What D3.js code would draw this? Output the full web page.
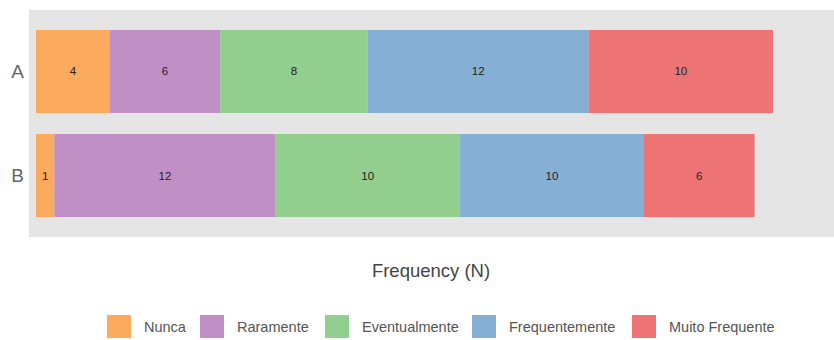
<!DOCTYPE html>
<html><head><meta charset="utf-8">
<script src="https://cdn.jsdelivr.net/npm/d3@7"></script>
<style>body{margin:0;background:#fff;font-family:"Liberation Sans",Arial,sans-serif}</style>
</head><body>
<svg id="c" width="834" height="340"></svg>
<script>
const categories = ["A", "B"];
const seriesNames = ["Nunca", "Raramente", "Eventualmente", "Frequentemente", "Muito Frequente"];
const nunca = [4, 1];
const raramente = [6, 12];
const eventualmente = [8, 10];
const frequentemente = [12, 10];
const muitoFrequente = [10, 6];
const colors = ["#FBAA5E", "#BF8FC5", "#92CF8F", "#85AFD5", "#ED7374"];
const xLabel = "Frequency (N)";

const seriesVals = [nunca, raramente, eventualmente, frequentemente, muitoFrequente];
const rows = categories.map((c, i) => {
  const o = {cat: c};
  seriesNames.forEach((s, j) => o[s] = seriesVals[j][i]);
  return o;
});
const stack = d3.stack().keys(seriesNames)(rows);

const svg = d3.select("#c");
const panel = {x0: 29, x1: 834, y0: 10, y1: 237};
svg.append("rect").attr("x", panel.x0).attr("y", panel.y0)
  .attr("width", panel.x1 - panel.x0).attr("height", panel.y1 - panel.y0).attr("fill", "#E5E5E5");

const x = d3.scaleLinear().domain([0, 40]).range([36, 773]);
const y = d3.scaleBand().domain(categories).range([panel.y0, panel.y1]).paddingInner(0.202).paddingOuter(0.192);

const g = svg.append("g");
stack.forEach((layer, j) => {
  const lg = g.append("g");
  lg.selectAll("rect").data(layer).join("rect")
    .attr("x", d => x(d[0])).attr("y", d => y(d.data.cat))
    .attr("width", d => x(d[1]) - x(d[0])).attr("height", y.bandwidth())
    .attr("fill", colors[j]);
  lg.selectAll("text").data(layer).join("text")
    .attr("x", d => (x(d[0]) + x(d[1])) / 2).attr("y", d => y(d.data.cat) + y.bandwidth() / 2)
    .attr("text-anchor", "middle").attr("dominant-baseline", "central")
    .attr("font-size", 11.5).attr("fill", "#222")
    .text(d => d[1] - d[0]);
});

const yAxis = d3.axisLeft(y).tickSize(0).tickPadding(5);
const ya = svg.append("g").attr("transform", `translate(${panel.x0},0)`).call(yAxis);
ya.select(".domain").remove();
ya.selectAll("text").attr("font-size", 19).attr("fill", "#666").attr("font-family", "Liberation Sans, Arial, sans-serif");

svg.append("text").attr("x", 431).attr("y", 277).attr("text-anchor", "middle")
  .attr("font-size", 18.5).attr("fill", "#444").text(xLabel);

const legendTextX = [144, 237, 362, 509, 669];
const lg = svg.append("g");
seriesNames.forEach((s, j) => {
  lg.append("rect").attr("x", legendTextX[j] - 37).attr("y", 315).attr("width", 24).attr("height", 23).attr("fill", colors[j]);
  lg.append("text").attr("x", legendTextX[j]).attr("y", 327).attr("dominant-baseline", "central")
    .attr("font-size", 14.5).attr("fill", "#555").text(s);
});
</script>
</body></html>
